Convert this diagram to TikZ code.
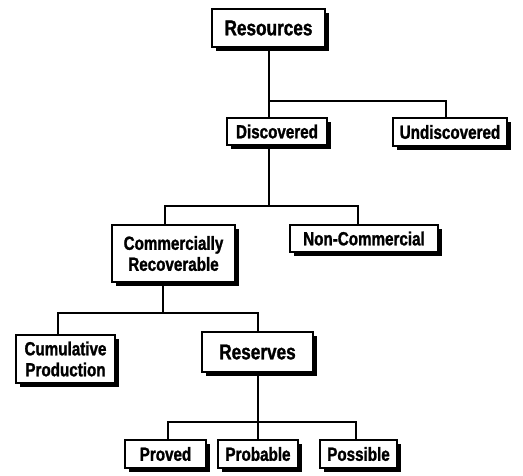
\documentclass[tikz,border=0pt]{standalone}
\usepackage{fontspec}
\newfontfamily\boxfont{Liberation Sans}[FakeStretch=0.8, BoldFeatures={FakeBold=1.3}]
\usetikzlibrary{shadows}
\begin{document}
\begin{tikzpicture}[x=1pt,y=-1pt,
  box/.style={draw=black, line width=1.3pt, fill=white, inner sep=0pt, align=center,
    font=\boxfont\bfseries\fontsize{19}{21}\selectfont,
    drop shadow={shadow xshift=4pt, shadow yshift=-4pt, fill=black, opacity=1}},
  big/.style={font=\boxfont\bfseries\fontsize{21.5}{24}\selectfont},
  link/.style={line width=1.1pt}]
\useasboundingbox (0,0) rectangle (523,475);
% nodes
\node[box,big,minimum width=113pt,minimum height=38pt] (res) at (268.5,28) {Resources};
\node[box,minimum width=100pt,minimum height=27pt] (dis) at (277,131.5) {Discovered};
\node[box,minimum width=114pt,minimum height=28pt] (und) at (450,132) {Undiscovered};
\node[box,minimum width=123pt,minimum height=57pt] (cr) at (173.5,253.5) {Commercially\\Recoverable};
\node[box,minimum width=148pt,minimum height=27pt] (nc) at (364,238.5) {Non-Commercial};
\node[box,minimum width=99pt,minimum height=48pt] (cp) at (65.5,359) {Cumulative\\Production};
\node[box,big,minimum width=111pt,minimum height=40pt] (rsv) at (257.5,352) {Reserves};
\node[box,minimum width=81pt,minimum height=28pt] (pro) at (165.5,454) {Proved};
\node[box,minimum width=80pt,minimum height=28pt] (prb) at (258,454) {Probable};
\node[box,minimum width=77pt,minimum height=28pt] (pos) at (358.5,454) {Possible};
% bus coordinates
\coordinate (b1) at (269,101);
\coordinate (b2) at (269,206);
\coordinate (b3) at (163,313);
\coordinate (b4) at (258,422);
% connectors
\draw[link] ([xshift=0.5pt]res.south) -- (b1);
\draw[link] (b1) -- (b1 |- dis.north);
\draw[link] (b1) -| ([xshift=-4pt]und.north);
\draw[link] (b2 |- dis.south) -- (b2);
\draw[link] (b2) -| ([xshift=-8.5pt]cr.north);
\draw[link] (b2) -| ([xshift=-6pt]nc.north);
\draw[link] (b3 |- cr.south) -- (b3);
\draw[link] (b3) -| ([xshift=-7.5pt]cp.north);
\draw[link] (b3) -| ([xshift=0.5pt]rsv.north);
\draw[link] (b4 |- rsv.south) -- (b4);
\draw[link] (b4) -- (prb.north);
\draw[link] (b4) -| ([xshift=2.5pt]pro.north);
\draw[link] (b4) -| ([xshift=-2.5pt]pos.north);
\end{tikzpicture}
\end{document}
